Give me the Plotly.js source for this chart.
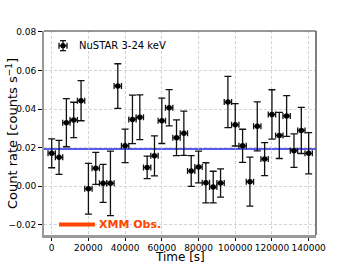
<!DOCTYPE html>
<html>
<head>
<meta charset="utf-8">
<script src="https://cdn.plot.ly/plotly-3.0.1.min.js"></script>
<style>html,body{margin:0;padding:0;background:#fff;}#chart{width:352px;height:264px;}</style>
</head>
<body>
<div id="chart"></div>
<script>
// NuSTAR 3-24 keV light curve (bin centres in s)
const timeSec = [0, 4000, 8000, 12000, 16000, 20000, 24000, 28000, 32000, 36000,
  40000, 44000, 48000, 52000, 56000, 60000, 64000, 68000, 72000, 76000,
  80000, 84000, 88000, 92000, 96000, 100000, 104000, 108000, 112000, 116000,
  120000, 124000, 128000, 132000, 136000, 140000];
const countRate = [0.0170, 0.0149, 0.0329, 0.0343, 0.0443, -0.0014, 0.0092, 0.0014, 0.0014, 0.0519,
  0.0209, 0.0346, 0.0357, 0.0097, 0.0157, 0.0339, 0.0407, 0.0251, 0.0274, 0.0078,
  0.0099, 0.0017, -0.0005, 0.0016, 0.0436, 0.0318, 0.0209, 0.0023, 0.0310, 0.0140,
  0.0372, 0.0263, 0.0364, 0.0184, 0.0289, 0.0170];
const rateErr = [0.0075, 0.0088, 0.0125, 0.0092, 0.0104, 0.0132, 0.0083, 0.0099, 0.0167, 0.0116,
  0.0087, 0.0126, 0.0116, 0.0058, 0.0104, 0.0118, 0.0094, 0.0093, 0.0115, 0.0080,
  0.0082, 0.0104, 0.0082, 0.0073, 0.0133, 0.0110, 0.0086, 0.0127, 0.0127, 0.0086,
  0.0128, 0.0120, 0.0106, 0.0087, 0.0120, 0.0107];
const binHalfWidth = 2000;
const meanRate = 0.0192;
const xmmTime = [4000, 23500];
const xmmLevel = [-0.02, -0.02];
const xTickVals = [0, 20000, 40000, 60000, 80000, 100000, 120000, 140000];
const yTickVals = [-0.02, 0, 0.02, 0.04, 0.06, 0.08];
const yTickText = ['\u22120.02', '0.00', '0.02', '0.04', '0.06', '0.08'];
const seriesName = 'NuSTAR 3-24 keV';

const font = 'DejaVu Sans, sans-serif';
const ink = '#111';

const traces = [
  {
    x: xmmTime, y: xmmLevel, mode: 'lines', type: 'scatter',
    line: {color: '#ff4500', width: 4}, showlegend: false, hoverinfo: 'skip'
  },
  {
    x: timeSec, y: countRate, type: 'scatter', mode: 'markers',
    name: seriesName, showlegend: false,
    marker: {color: '#000', size: 5.5},
    error_y: {type: 'data', array: rateErr, visible: true, color: ink, thickness: 1.3, width: 3.5},
    error_x: {type: 'constant', value: binHalfWidth, visible: true, color: ink, thickness: 1.3, width: 3}
  }
];

// legend glyph (errorbar symbol) in paper units
const lgx = 0.0699, lgy = 0.928;
const dxp = 1 / 272, dyp = 1 / 204;
const legendShapes = [
  {type: 'line', xref: 'paper', yref: 'paper', x0: lgx, x1: lgx, y0: lgy - 5 * dyp, y1: lgy + 5 * dyp, line: {color: ink, width: 1.3}},
  {type: 'line', xref: 'paper', yref: 'paper', x0: lgx - 3 * dxp, x1: lgx + 3 * dxp, y0: lgy - 5 * dyp, y1: lgy - 5 * dyp, line: {color: ink, width: 1.3}},
  {type: 'line', xref: 'paper', yref: 'paper', x0: lgx - 3 * dxp, x1: lgx + 3 * dxp, y0: lgy + 5 * dyp, y1: lgy + 5 * dyp, line: {color: ink, width: 1.3}},
  {type: 'line', xref: 'paper', yref: 'paper', x0: lgx - 4 * dxp, x1: lgx + 4 * dxp, y0: lgy, y1: lgy, line: {color: ink, width: 1.3}},
  {type: 'line', xref: 'paper', yref: 'paper', x0: lgx - 4 * dxp, x1: lgx - 4 * dxp, y0: lgy - 3 * dyp, y1: lgy + 3 * dyp, line: {color: ink, width: 1.3}},
  {type: 'line', xref: 'paper', yref: 'paper', x0: lgx + 4 * dxp, x1: lgx + 4 * dxp, y0: lgy - 3 * dyp, y1: lgy + 3 * dyp, line: {color: ink, width: 1.3}},
  {type: 'circle', xref: 'paper', yref: 'paper', x0: lgx - 2.6 * dxp, x1: lgx + 2.6 * dxp, y0: lgy - 2.6 * dyp, y1: lgy + 2.6 * dyp, fillcolor: '#000', line: {color: '#000', width: 0}}
];

const layout = {
  width: 352, height: 264,
  margin: {l: 44, r: 36, t: 31, b: 29},
  paper_bgcolor: '#fff', plot_bgcolor: '#fff',
  font: {family: font, size: 9, color: '#000'},
  showlegend: false,
  xaxis: {
    range: [-4200, 144000], tickvals: xTickVals, ticktext: xTickVals.map(String),
    ticks: 'outside', ticklen: 3, tickcolor: '#000', tickwidth: 1,
    showgrid: true, gridcolor: '#c8c8c8', griddash: '3px,2px', gridwidth: 0.8,
    zeroline: false, showline: true, linecolor: '#999', linewidth: 2.5,
    automargin: false
  },
  yaxis: {
    range: [-0.0254, 0.0805], tickvals: yTickVals, ticktext: yTickText,
    ticks: 'outside', ticklen: 3.5, tickcolor: '#000', tickwidth: 1,
    showgrid: true, gridcolor: '#c8c8c8', griddash: '3px,2px', gridwidth: 0.8,
    zeroline: false, showline: true, linecolor: '#999', linewidth: 2.5,
    automargin: false
  },
  shapes: [
    {type: 'line', xref: 'paper', yref: 'y', x0: 0, x1: 1, y0: meanRate, y1: meanRate,
     line: {color: 'rgb(35,35,230)', width: 1.5}, layer: 'below'},
    {type: 'line', xref: 'paper', yref: 'paper', x0: 0, x1: 1, y0: 1, y1: 1,
     line: {color: '#333', width: 1.2}},
    {type: 'line', xref: 'paper', yref: 'paper', x0: 1, x1: 1, y0: 0, y1: 1,
     line: {color: '#555', width: 1.5}}
  ].concat(legendShapes),
  annotations: [
    {x: xmmTime[1], y: xmmLevel[1], xref: 'x', yref: 'y', xanchor: 'left', yanchor: 'middle',
     xshift: 2, text: '<b>XMM Obs.</b>', showarrow: false,
     font: {family: font, size: 11, color: '#ff4500'}},
    {x: 0.121, y: lgy, xref: 'paper', yref: 'paper', xanchor: 'left', yanchor: 'middle',
     text: seriesName, showarrow: false, font: {family: font, size: 10, color: '#000'}},
    {x: -0.1176, y: 0.495, xref: 'paper', yref: 'paper', xanchor: 'center', yanchor: 'middle',
     textangle: -90, text: 'Count rate [counts s<sup>\u22121</sup>]', showarrow: false,
     font: {family: font, size: 13, color: '#000'}},
    {x: 0.5, y: -0.107, xref: 'paper', yref: 'paper', xanchor: 'center', yanchor: 'middle',
     text: 'Time [s]', showarrow: false, font: {family: font, size: 12, color: '#000'}}
  ]
};

Plotly.newPlot('chart', traces, layout, {staticPlot: true, displayModeBar: false});
</script>
</body>
</html>
